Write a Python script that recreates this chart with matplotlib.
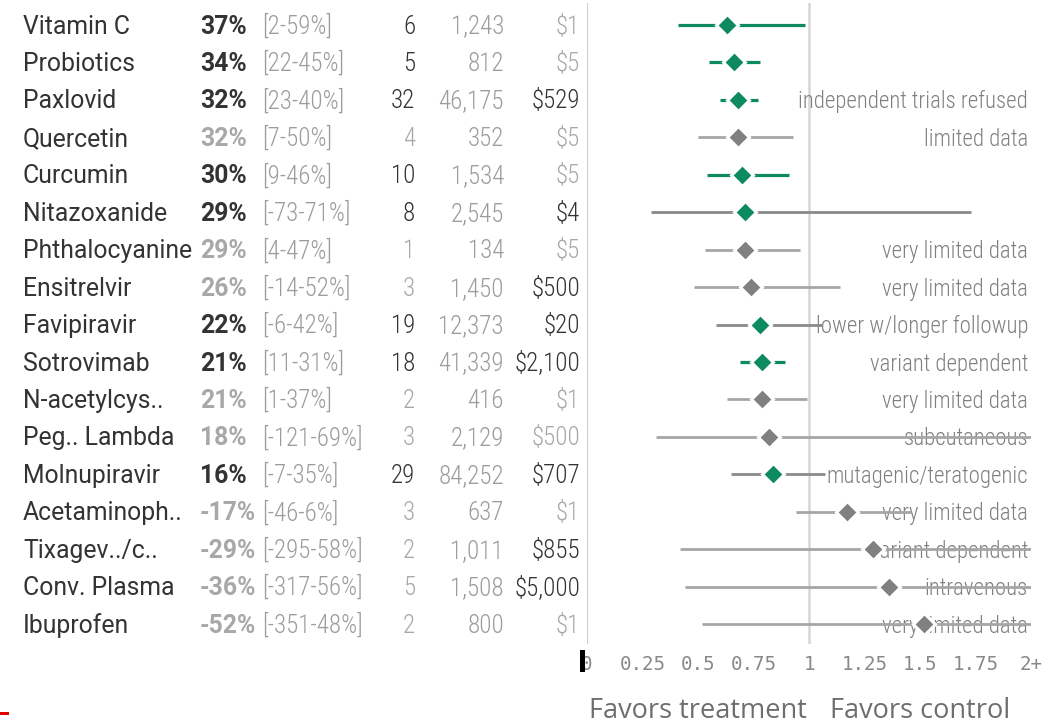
import matplotlib
matplotlib.use("Agg")
import matplotlib.pyplot as plt
import matplotlib.transforms as mtransforms
from matplotlib.patches import Rectangle

# ---- data -------------------------------------------------------------
names = ["Vitamin C", "Probiotics", "Paxlovid", "Quercetin", "Curcumin",
         "Nitazoxanide", "Phthalocyanine", "Ensitrelvir", "Favipiravir",
         "Sotrovimab", "N-acetylcys..", "Peg.. Lambda", "Molnupiravir",
         "Acetaminoph..", "Tixagev../c..", "Conv. Plasma", "Ibuprofen"]
effect = [37, 34, 32, 32, 30, 29, 29, 26, 22, 21, 21, 18, 16, -17, -29, -36, -52]
ci_low = [2, 22, 23, 7, 9, -73, 4, -14, -6, 11, 1, -121, -7, -46, -295, -317, -351]
ci_high = [59, 45, 40, 50, 46, 71, 47, 52, 42, 31, 37, 69, 35, 6, 58, 56, 48]
trials = [6, 5, 32, 4, 10, 8, 1, 3, 19, 18, 2, 3, 29, 3, 2, 5, 2]
patients = [1243, 812, 46175, 352, 1534, 2545, 134, 1450, 12373, 41339,
            416, 2129, 84252, 637, 1011, 1508, 800]
cost = [1, 5, 529, 5, 5, 4, 5, 500, 20, 2100, 1, 500, 707, 1, 855, 5000, 1]
primary = [True, True, True, False, True, True, False, False, True, True,
           False, False, True, False, False, False, False]
approved = [False, False, True, False, False, True, False, True, True, True,
            False, False, True, False, True, True, False]
notes = ["", "", "independent trials refused", "limited data", "", "",
         "very limited data", "very limited data", "lower w/longer followup",
         "variant dependent", "very limited data", "subcutaneous",
         "mutagenic/teratogenic", "very limited data", "variant dependent",
         "intravenous", "very limited data"]
xticks = [0, 0.25, 0.5, 0.75, 1, 1.25, 1.5, 1.75, 2]
xtick_labels = ["0", "0.25", "0.5", "0.75", "1", "1.25", "1.5", "1.75", "2+"]

# ---- style ------------------------------------------------------------
W, H = 1061, 724
GREEN = "#0e8a60"
DIAMOND_GRAY = "#808080"
LINE_MID = "#8a8a8a"
LINE_LIGHT = "#a6a6a6"
DARK = "#333333"
MUTED = "#a8a8a8"
NUM_GRAY = "#9c9c9c"
NOTE = "#808080"
NAME_FONT = "Roboto"
NARROW = "Roboto Condensed"
FS = 17.8
FS_NUM = 18
FS_NOTE = 16.4
BASE_OFF = 0.23   # baseline shift (in rows) so the cap height is centred

fig = plt.figure(figsize=(W / 100, H / 100), dpi=100)
fig.patch.set_facecolor("white")

# forest plot area (pixel geometry converted to figure fractions)
ax_left, ax_right, ax_top, ax_bottom = 587, 1031, 3, 644
ax = fig.add_axes([ax_left / W, 1 - ax_bottom / H,
                   (ax_right - ax_left) / W, (ax_bottom - ax_top) / H])
ax.set_xlim(0, 2)
row0, pitch = 25, 37.44
ax.set_ylim((ax_bottom - row0) / pitch, (ax_top - row0) / pitch)
for s in ax.spines.values():
    s.set_visible(False)
ax.set_yticks([])
ax.set_xticks(xticks)
ax.set_xticklabels(xtick_labels, family="DejaVu Sans Mono", fontsize=13.8,
                   color="#888888")
ax.tick_params(axis="x", length=0, pad=8)

ax.axvline(0, color="#d0d0d0", lw=1.6, zorder=1)
ax.axvline(1, color="#d6d6d6", lw=1.8, zorder=1)

rows = list(range(len(names)))
rr = [1 - e / 100 for e in effect]
rr_lo = [1 - h / 100 for h in ci_high]
rr_hi = [1 - l / 100 for l in ci_low]

for i in rows:
    significant = ci_low[i] > 0
    if primary[i] and significant:
        lc, lw = GREEN, 2.3
    elif primary[i]:
        lc, lw = LINE_MID, 2.0
    else:
        lc, lw = LINE_LIGHT, 2.0
    ax.plot([rr_lo[i], rr_hi[i]], [i, i], color=lc, lw=lw,
            solid_capstyle="butt", zorder=3)
    ax.plot(rr[i], i, marker="D", markersize=11,
            color=GREEN if primary[i] else DIAMOND_GRAY,
            markeredgecolor="white", markeredgewidth=2.2, zorder=4,
            clip_on=False)
    if notes[i]:
        ax.text(1.987, i + BASE_OFF, notes[i], ha="right", va="baseline",
                fontsize=FS_NOTE, family=NARROW, fontweight=300, color=NOTE,
                zorder=2, clip_on=False)

# table columns beside the plot: x in figure pixels, y in row units
tr = mtransforms.blended_transform_factory(fig.transFigure, ax.transData)


def col(px):
    return px / W


for i in rows:
    y = i + BASE_OFF
    fig.text(col(23), y, names[i], transform=tr, ha="left", va="baseline",
             fontsize=FS, family=NAME_FONT, color=DARK)
    fig.text(col(200), y, f"{effect[i]}%", transform=tr, ha="left",
             va="baseline", fontsize=FS, family=NAME_FONT, fontweight="bold",
             color=DARK if primary[i] else MUTED)
    fig.text(col(262), y, f"[{ci_low[i]}-{ci_high[i]}%]", transform=tr,
             ha="left", va="baseline", fontsize=FS_NUM, family=NARROW,
             fontweight=300, color=NUM_GRAY)
    fig.text(col(415), y, f"{trials[i]}", transform=tr, ha="right",
             va="baseline", fontsize=FS_NUM, family=NARROW, fontweight=300,
             color=DARK if primary[i] else MUTED)
    fig.text(col(504), y, f"{patients[i]:,}", transform=tr, ha="right",
             va="baseline", fontsize=FS_NUM, family=NARROW, fontweight=300,
             color=NUM_GRAY)
    fig.text(col(580), y, f"${cost[i]:,}", transform=tr, ha="right",
             va="baseline", fontsize=FS_NUM, family=NARROW, fontweight=300,
             color=DARK if approved[i] else MUTED)

# direction labels under the axis
tr_lab = mtransforms.blended_transform_factory(ax.transData, fig.transFigure)
fig.text(0.5, 1 - 711 / H, "Favors treatment", transform=tr_lab, ha="center",
         va="center", fontsize=19.5, family="Open Sans", color="#6e6e6e")
fig.text(1.5, 1 - 711 / H, "Favors control", transform=tr_lab, ha="center",
         va="center", fontsize=19.5, family="Open Sans", color="#6e6e6e")

# small marks near the axis origin and lower-left corner
fig.add_artist(Rectangle((580 / W, 1 - 672 / H), 5 / W, 22 / H,
                         transform=fig.transFigure, color="black", lw=0))
fig.add_artist(Rectangle((0, 1 - 715 / H), 9 / W, 3 / H,
                         transform=fig.transFigure, color="#e00000", lw=0))

fig.savefig("out.png", dpi=100)
